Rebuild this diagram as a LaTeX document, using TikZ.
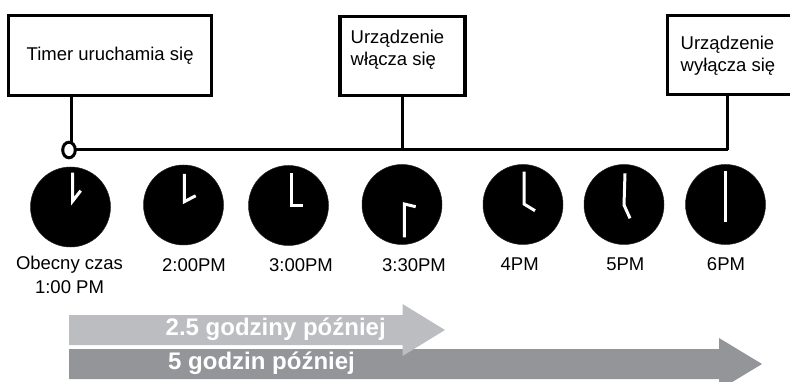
\documentclass[tikz,border=0pt]{standalone}
\usepackage{fontspec}
\usetikzlibrary{shapes.geometric}
\setmainfont{Liberation Sans}
\definecolor{lightg}{HTML}{BCBDC0}
\definecolor{darkg}{HTML}{939598}
\tikzset{
  x=1pt,y=-1pt,
  boxn/.style={draw=black,line width=3.2pt,fill=white,inner sep=0pt,outer sep=0pt,anchor=north west},
  wire/.style={draw=black,line width=3pt},
  clockn/.style={circle,fill=black,draw=black!85,line width=0.5pt,minimum size=80pt,inner sep=0pt},
  hand/.style={draw=white,line width=3pt,line join=miter},
  lbl/.style={font=\fontsize{18.5pt}{24pt}\selectfont,align=center,inner sep=0pt},
  boxt/.style={font=\fontsize{18.5pt}{22pt}\selectfont,align=left,inner sep=0pt,anchor=west},
  bart/.style={font=\bfseries\fontsize{24pt}{26pt}\selectfont,text=white,inner sep=0pt,anchor=west}
}
\begin{document}
\begin{tikzpicture}
\useasboundingbox (0,0) rectangle (790,382);
% arrows
\fill[darkg] (69,349) -- (719,349) -- (719,338) -- (762,364) -- (719,390) -- (719,379) -- (69,379) -- cycle;
\fill[lightg] (69,315) -- (402.5,315) -- (402.5,304) -- (445,330) -- (402.5,356) -- (402.5,345) -- (69,345) -- cycle;
\node[bart] (t25) at (165.5,329.5) {2.5 godziny później};
\node[bart] (t5) at (168,363.5) {5 godzin później};
% connectors
\coordinate (startpt) at (69,150);
\coordinate (j1) at (71.7,150);
\coordinate (j2) at (402.3,150);
\coordinate (j3) at (727.7,150);
% boxes
\node[boxn,minimum width=203pt,minimum height=79.5pt] (b1) at (8.8,15.8) {};
\node[boxn,minimum width=125pt,minimum height=78.5pt] (b2) at (340,16.7) {};
\node[boxn,minimum width=130pt,minimum height=79pt] (b3) at (667.3,15.8) {};
\node[boxt] (tb1) at (26.5,56) {Timer uruchamia się};
\node[boxt] (tb2) at (350.5,50) {Urządzenie\\włącza się};
\node[boxt] (tb3) at (680.5,56) {Urządzenie\\wyłącza się};
\draw[wire] (j1) -- (b1.south -| j1);
\draw[wire] (j2) -- (b2.south -| j2);
\draw[wire] (j3) -- (b3.south -| j3);
\draw[wire] (startpt) -- (j3);
\node[ellipse,draw=black,fill=white,line width=3pt,minimum width=12.6pt,minimum height=15.6pt,inner sep=0pt] (st) at (startpt) {};
% clocks
\node[clockn] (c1) at (70.5,207) {};
\node[clockn] (c2) at (183.5,205) {};
\node[clockn] (c3) at (288.5,205.5) {};
\node[clockn] (c4) at (402,204.5) {};
\node[clockn] (c5) at (523,204.5) {};
\node[clockn] (c6) at (624,204.5) {};
\node[clockn] (c7) at (725.5,204.5) {};
\draw[hand] (72.7,172.7) -- (72.7,201) -- (80.7,190.7);
\draw[hand] (184.3,174) -- (184.3,201.7) -- (195.7,195.7);
\draw[hand] (291,173.3) -- (291,206) -- (302.7,206);
\draw[hand] (404.3,237.3) -- (404.3,204) -- (415.7,206.7);
\draw[hand] (524,171.7) -- (524,204) -- (535,210.7);
\draw[hand] (625,173.3) -- (624,205) -- (630,218.3);
\draw[hand] (725.3,171) -- (725.3,222);
% labels
\node[lbl] (l1) at (69.5,275) {Obecny czas\\1:00 PM};
\node[lbl] (l2) at (194,265) {2:00PM};
\node[lbl] (l3) at (301,265) {3:00PM};
\node[lbl] (l4) at (414,265) {3:30PM};
\node[lbl] (l5) at (519.7,264) {4PM};
\node[lbl] (l6) at (625.3,264) {5PM};
\node[lbl] (l7) at (726,264) {6PM};
\end{tikzpicture}
\end{document}
